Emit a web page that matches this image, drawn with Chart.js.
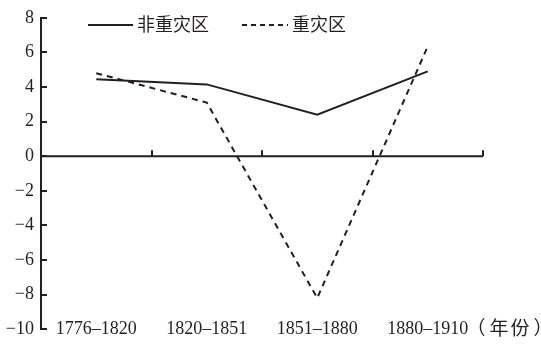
<!DOCTYPE html>
<html>
<head>
<meta charset="utf-8">
<script src="https://cdn.jsdelivr.net/npm/chart.js@4/dist/chart.umd.min.js"></script>
<style>
html,body{margin:0;padding:0;background:#fff;}
#wrap{width:541px;height:347px;position:relative;}
</style>
</head>
<body>
<div id="wrap"><canvas id="c"></canvas></div>
<script>
const categories = ['1776–1820','1820–1851','1851–1880','1880–1910'];
const nonSevere = [4.45, 4.15, 2.4, 4.9];
const severe = [4.8, 3.1, -8.2, 6.35];
const seriesNames = ['非重灾区','重灾区'];
const yMin = -10, yMax = 8, yStep = 2;
const unitLabel = '（年份）';

const ink = '#231f20';
const serif = '"Liberation Serif", "DejaVu Serif", serif';
const cjk = '"Noto Sans CJK SC", sans-serif';

// zero line with upward ticks, inner y ticks, bottom labels, legend
const extras = {
  id:'extras',
  afterDraw(chart){
    const c=chart.ctx, x=chart.scales.x, y=chart.scales.y, a=chart.chartArea;
    c.save();
    c.strokeStyle=ink; c.lineWidth=2; c.setLineDash([]);
    const y0=y.getPixelForValue(0);
    c.beginPath(); c.moveTo(a.left,y0); c.lineTo(a.right,y0); c.stroke();
    const w=(a.right-a.left)/categories.length;
    for(let i=1;i<=categories.length;i++){
      const px=Math.round(a.left+w*i);
      c.beginPath(); c.moveTo(px,y0); c.lineTo(px,y0-6); c.stroke();
    }
    for(let v=yMin;v<=yMax;v+=yStep){
      const py=Math.round(y.getPixelForValue(v));
      c.beginPath(); c.moveTo(a.left,py); c.lineTo(a.left+6,py); c.stroke();
    }
    c.fillStyle=ink; c.font='18px '+serif; c.textAlign='center'; c.textBaseline='middle';
    categories.forEach((t,i)=>c.fillText(t,x.getPixelForValue(i),a.bottom));
    // unit label, spaced out like the original
    c.font='19px '+cjk;
    const ux=[476,499,520,543];
    [...unitLabel].forEach((ch,i)=>c.fillText(ch,ux[i],a.bottom-1));
    // legend
    c.textAlign='left';
    c.font='18px '+cjk;
    c.beginPath(); c.moveTo(88,25); c.lineTo(133,25); c.stroke();
    c.fillText(seriesNames[0],137,24);
    c.setLineDash([5,4]);
    c.beginPath(); c.moveTo(242,25); c.lineTo(288,25); c.stroke();
    c.setLineDash([]);
    c.fillText(seriesNames[1],292,24);
    c.restore();
  }
};

new Chart(document.getElementById('c'),{
  type:'line',
  data:{labels:categories,datasets:[
    {label:seriesNames[0],data:nonSevere,borderColor:ink,borderWidth:2,pointRadius:0,tension:0},
    {label:seriesNames[1],data:severe,borderColor:ink,borderWidth:2,borderDash:[6,5],pointRadius:0,tension:0}
  ]},
  options:{
    responsive:true,maintainAspectRatio:false,animation:false,
    layout:{padding:{left:0,right:58,top:15,bottom:14}},
    plugins:{legend:{display:false},tooltip:{enabled:false}},
    scales:{
      x:{display:false,offset:true},
      y:{min:yMin,max:yMax,
        afterFit(s){s.width=41;},
        ticks:{stepSize:yStep,padding:7,color:ink,font:{family:serif,size:18},
          callback:v=>String(v).replace('-','−')},
        grid:{drawOnChartArea:false,tickLength:0},
        border:{display:true,color:ink,width:2}}
    }
  },
  plugins:[extras]
});
</script>
</body>
</html>
